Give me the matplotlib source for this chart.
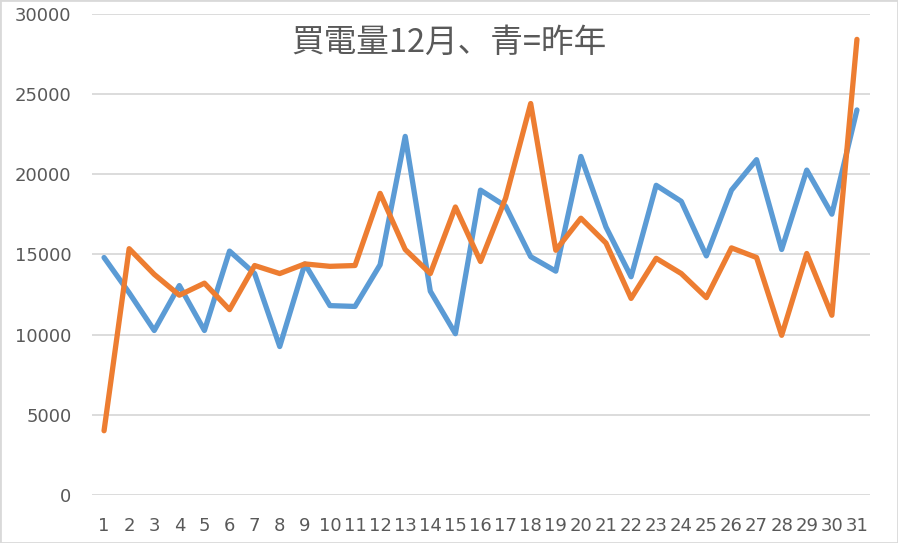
import matplotlib.pyplot as plt
from matplotlib.patches import Rectangle

# ---- データ ----
days = list(range(1, 32))
last_year = [14800, 12600, 10250, 13050, 10250, 15200, 13800, 9250, 14400, 11800,
             11750, 14350, 22350, 12700, 10050, 19000, 18000, 14850, 13950, 21100,
             16700, 13600, 19300, 18300, 14900, 19000, 20900, 15300, 20250, 17500,
             24000]
this_year = [4000, 15350, 13750, 12450, 13200, 11550, 14300, 13800, 14400, 14250,
             14300, 18800, 15300, 13800, 17950, 14550, 18500, 24400, 15250, 17250,
             15700, 12250, 14750, 13800, 12300, 15400, 14800, 9950, 15050, 11200,
             28400]
y_ticks = [0, 5000, 10000, 15000, 20000, 25000, 30000]
title = "買電量12月、青=昨年"

BLUE = "#5B9BD5"
ORANGE = "#ED7D31"
GRID = "#D9D9D9"
TEXT = "#595959"

fig = plt.figure(figsize=(8.98, 5.43), dpi=100)
ax = fig.add_axes([91.5 / 898, 48.1 / 543, 778 / 898, 481.2 / 543])

ax.plot(days, last_year, color=BLUE, lw=3.8, solid_joinstyle='round', solid_capstyle='round', zorder=3)
ax.plot(days, this_year, color=ORANGE, lw=3.8, solid_joinstyle='round', solid_capstyle='round', zorder=4)

ax.set_xlim(0.5, 31.5)
ax.set_ylim(0, 30000)
ax.set_yticks(y_ticks)
ax.set_yticklabels([str(v) for v in y_ticks])
ax.set_xticks(days)
ax.set_xticklabels([str(d) for d in days])

for s in ax.spines.values():
    s.set_visible(False)
ax.grid(axis='y', color=GRID, lw=1.3, zorder=0)
ax.set_axisbelow(True)
ax.tick_params(axis='both', length=0, colors=TEXT, labelsize=13)
ax.tick_params(axis='x', pad=16)
ax.tick_params(axis='y', pad=14.5)
for lbl in ax.get_xticklabels() + ax.get_yticklabels():
    lbl.set_family(['DejaVu Sans'])

fig.text(0.4995, 1 - 43 / 543, title, ha='center', va='center', fontsize=23.5,
         color=TEXT, family=['Noto Sans CJK JP', 'DejaVu Sans'])

# 外枠
fig.patches.append(Rectangle((0, 0), 1, 1, transform=fig.transFigure, fill=False,
                             edgecolor=GRID, lw=2))

fig.savefig("out.png", dpi=100)
